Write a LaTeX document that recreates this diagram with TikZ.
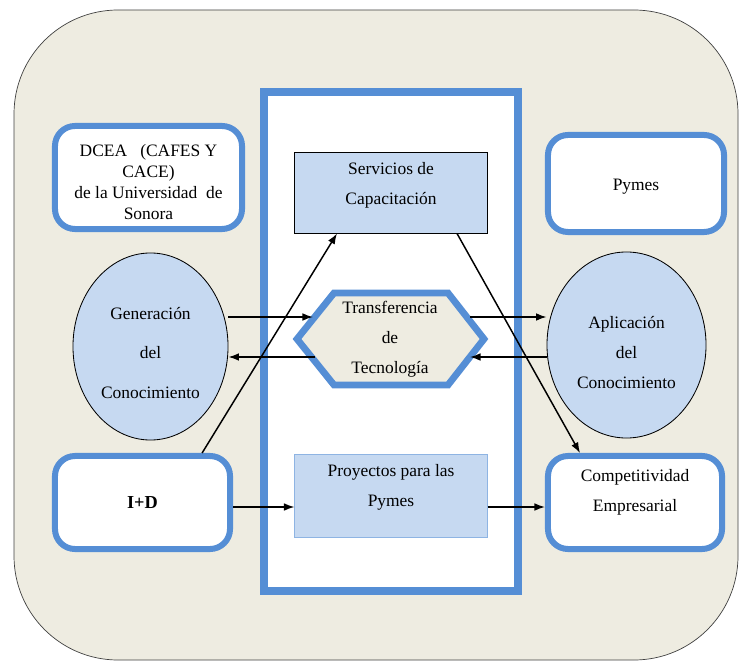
\documentclass[tikz,border=0pt]{standalone}
\usepackage{fontspec}
\setmainfont{Liberation Serif}
\usetikzlibrary{arrows.meta,positioning,shapes.geometric}
\definecolor{BBlue}{RGB}{85,142,213}
\definecolor{LBlue}{RGB}{198,217,241}
\definecolor{PBlue}{RGB}{142,180,227}
\definecolor{Tan}{RGB}{238,236,225}

\begin{document}
\begin{tikzpicture}[x=0.025cm,y=-0.025cm,
    font=\fontsize{12.4}{21.3}\selectfont,
    blubox/.style={rectangle,rounded corners=0.5cm,draw=BBlue,line width=0.15cm,fill=white,align=center,inner sep=0pt},
    flat/.style={rectangle,draw=black,line width=0.7pt,fill=LBlue,inner sep=0pt},
    blob/.style={ellipse,draw=black,line width=0.6pt,fill=LBlue,inner sep=0pt},
    txt/.style={align=center,inner sep=0pt},
    arr/.style={-{Latex[length=7.5pt,width=5.5pt]},line width=1.05pt}
  ]
  \useasboundingbox (0,0) rectangle (740,661);
  \draw[fill=Tan,draw=black!75,line width=0.5pt,rounded corners=2.6cm] (14,10) rectangle (738,660);
  \draw[draw=BBlue,line width=0.2cm,fill=white] (264,92) rectangle (517.5,591);

  \node[blubox,minimum width=4.675cm,minimum height=2.575cm] (dcea) at (148.5,177.5) {};
  \node[txt,font=\fontsize{12.4}{15}\selectfont] (dceatxt) at ([yshift=-0.12cm]dcea.center) {DCEA\ \ \ (CAFES Y\\CACE)\\de la Universidad\ \ de\\Sonora};
  \node[blubox,minimum width=4.4cm,minimum height=2.425cm] (pymes) at (636,183.5) {};
  \node[txt] (pymestxt) at ([yshift=-0.08cm]pymes.center) {Pymes};
  \node[blubox,minimum width=4.375cm,minimum height=2.325cm,font=\fontsize{13}{15}\selectfont\bfseries] (imd) at (142.5,502.5) {I+D};
  \node[blubox,minimum width=4.35cm,minimum height=2.325cm] (comp) at (635,502.5) {};
  \node[txt] (comptxt) at ([yshift=0.25cm]comp.center) {Competitividad\\Empresarial};

  \node[flat,minimum width=4.8cm,minimum height=2cm] (serv) at (391,193) {};
  \node[txt] (servtxt) at ([yshift=0.2cm]serv.center) {Servicios de\\Capacitación};
  \node[flat,draw=PBlue,minimum width=4.8cm,minimum height=2.05cm] (pro) at (391,496) {};
  \node[txt] (protxt) at ([yshift=0.225cm]pro.center) {Proyectos para las\\Pymes};

  \node[blob,minimum width=3.875cm,minimum height=4.675cm] (gen) at (150.5,346.5) {};
  \node[txt,font=\fontsize{12.4}{28}\selectfont] (gentxt) at ([yshift=-0.16cm]gen.center) {Generación\\del\\Conocimiento};
  \node[blob,minimum width=3.975cm,minimum height=4.65cm] (apl) at (626.5,345) {};
  \node[txt] (apltxt) at ([yshift=-0.19cm]apl.center) {Aplicación\\del\\Conocimiento};

  \draw[draw=BBlue,line width=0.17cm,fill=Tan] (297,339) -- (334,293) -- (448,293) -- (484,339) -- (448,385) -- (334,385) -- cycle;
  \node[txt] (hex) at (390,339) {Transferencia\\de\\Tecnología};

  \coordinate (hxa) at (313,317);
  \coordinate (hxb) at (315,357);
  \coordinate (hxc) at (470,317);
  \coordinate (hxd) at (470,357);
  \coordinate (row) at (0,507);

  \draw[arr] (gen.east |- hxa) -- (hxa);
  \draw[arr] (hxb) -- (gen.east |- hxb);
  \draw[arr] (hxc) -- (apl.west |- hxc);
  \draw[arr] (apl.west |- hxd) -- (hxd);
  \draw[arr] (imd.east |- row) -- (pro.west |- row);
  \draw[arr] (pro.east |- row) -- (comp.west |- row);
  \draw[arr] ([xshift=1.49cm]imd.north) -- ([xshift=-1.35cm]serv.south);
  \draw[arr] ([xshift=1.65cm]serv.south) -- ([xshift=-1.375cm]comp.north);
\end{tikzpicture}
\end{document}
